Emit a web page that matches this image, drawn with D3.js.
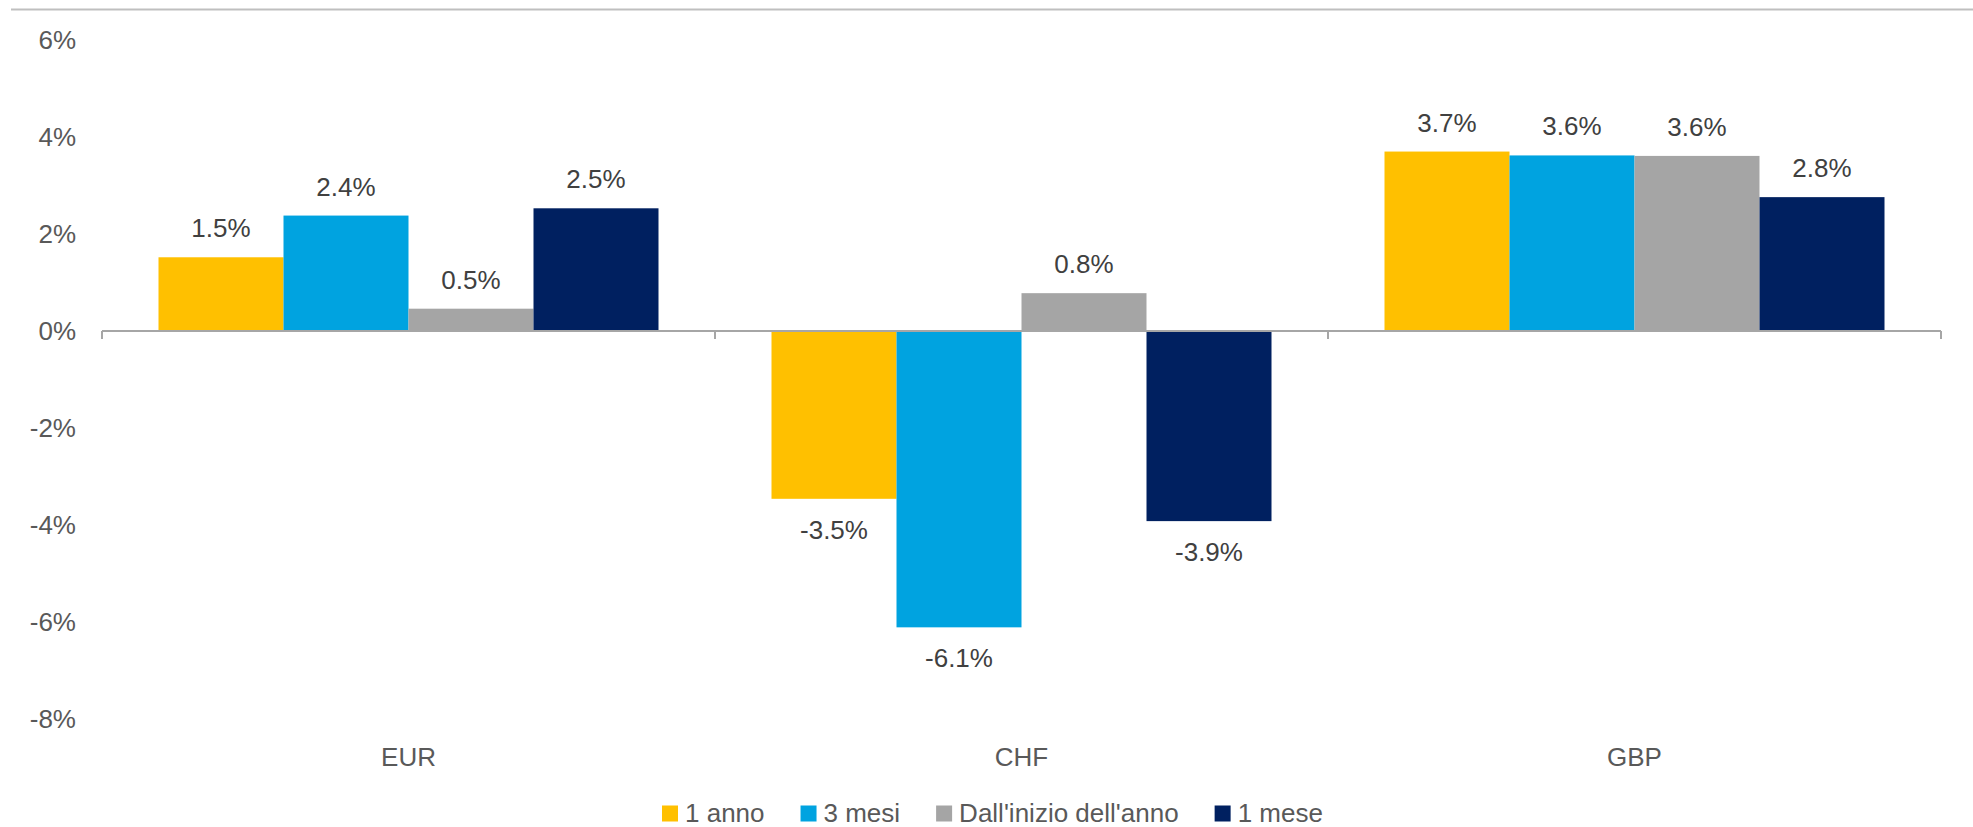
<!DOCTYPE html>
<html><head><meta charset="utf-8">
<script src="https://cdn.jsdelivr.net/npm/d3@7"></script>
<style>
html,body{margin:0;padding:0;background:#fff;}
svg{display:block;font-family:"Liberation Sans",Arial,sans-serif;}
</style></head>
<body>
<svg id="chart" width="1973" height="827"></svg>
<script>
const categories = ["EUR", "CHF", "GBP"];
const seriesNames = ["1 anno", "3 mesi", "Dall'inizio dell'anno", "1 mese"];
const colors = ["#FFC000", "#00A3E0", "#A5A5A5", "#002060"];
const anno1 = [1.52, -3.46, 3.70];
const mesi3 = [2.38, -6.11, 3.62];
const ytd = [0.46, 0.78, 3.61];
const mese1 = [2.53, -3.92, 2.76];
const yTicks = [-8, -6, -4, -2, 0, 2, 4, 6];

const seriesValues = [anno1, mesi3, ytd, mese1];
const svg = d3.select("#chart");

// top rule
svg.append("line").attr("x1", 11).attr("x2", 1973).attr("y1", 9.5).attr("y2", 9.5)
  .attr("stroke", "#BFBFBF").attr("stroke-width", 2);

const y = d3.scaleLinear().domain([-8, 6]).range([719, 40]);
const x0 = d3.scaleBand().domain(categories).range([102, 1941]).paddingInner(0).paddingOuter(0);
const x1 = d3.scaleBand().domain(seriesNames).range([56.5, x0.bandwidth() - 56.5]).padding(0);

// y axis labels
const yAxis = d3.axisLeft(y).tickValues(yTicks).tickSize(0).tickPadding(26)
  .tickFormat(d => d + "%");
const gy = svg.append("g").attr("transform", "translate(102,0)").call(yAxis);
gy.select(".domain").remove();
gy.selectAll("text").attr("font-size", 26).attr("fill", "#595959")
  .attr("font-family", "Liberation Sans, Arial, sans-serif");

// bars
const data = [];
categories.forEach((c, ci) => {
  seriesNames.forEach((s, si) => {
    data.push({cat: c, series: s, value: seriesValues[si][ci], color: colors[si]});
  });
});

svg.append("g").selectAll("rect").data(data).join("rect")
  .attr("x", d => x0(d.cat) + x1(d.series))
  .attr("width", x1.bandwidth())
  .attr("y", d => y(Math.max(0, d.value)))
  .attr("height", d => Math.abs(y(d.value) - y(0)))
  .attr("fill", d => d.color);

// zero axis line and ticks
const zeroY = y(0);
svg.append("line").attr("x1", x0.range()[0]).attr("x2", x0.range()[1])
  .attr("y1", zeroY).attr("y2", zeroY).attr("stroke", "#A6A6A6").attr("stroke-width", 2);
const tickXs = categories.map(c => x0(c)).concat([x0(categories[categories.length - 1]) + x0.bandwidth()]);
svg.append("g").selectAll("line").data(tickXs).join("line")
  .attr("x1", d => d).attr("x2", d => d)
  .attr("y1", zeroY).attr("y2", zeroY + 8)
  .attr("stroke", "#A6A6A6").attr("stroke-width", 2);

// value labels
svg.append("g").selectAll("text").data(data).join("text")
  .attr("x", d => x0(d.cat) + x1(d.series) + x1.bandwidth() / 2)
  .attr("y", d => d.value >= 0 ? y(d.value) - 29 : y(d.value) + 31)
  .attr("text-anchor", "middle").attr("dominant-baseline", "central")
  .attr("font-size", 26).attr("fill", "#404040")
  .text(d => d.value.toFixed(1) + "%");

// category labels
svg.append("g").selectAll("text").data(categories).join("text")
  .attr("x", d => x0(d) + x0.bandwidth() / 2)
  .attr("y", 757)
  .attr("text-anchor", "middle").attr("dominant-baseline", "central")
  .attr("font-size", 26).attr("fill", "#595959")
  .text(d => d);

// legend
const lg = svg.append("g");
let lx = 662;
const ly = 812.5;
seriesNames.forEach((s, i) => {
  lg.append("rect").attr("x", lx).attr("y", ly - 7).attr("width", 16).attr("height", 16).attr("fill", colors[i]);
  const t = lg.append("text").attr("x", lx + 23).attr("y", ly)
    .attr("dominant-baseline", "central").attr("font-size", 26).attr("fill", "#595959").text(s);
  const w = t.node().getComputedTextLength();
  lx = lx + 23 + w + 36;
});
</script>
</body></html>
